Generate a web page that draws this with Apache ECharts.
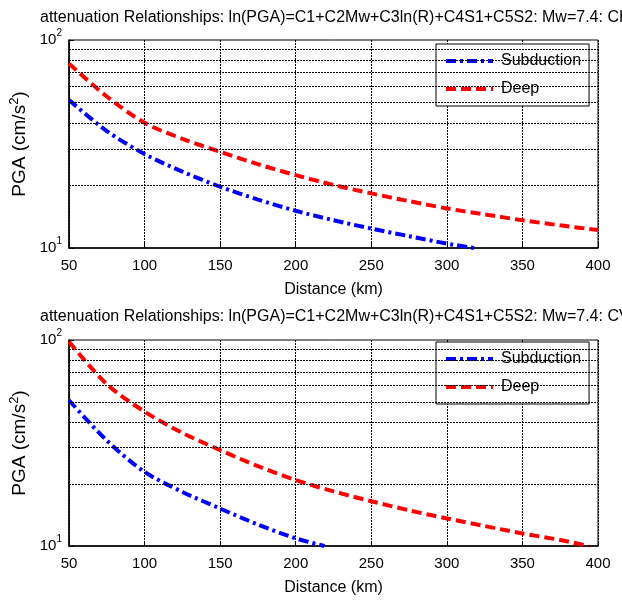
<!DOCTYPE html>
<html>
<head>
<meta charset="utf-8">
<script src="https://cdn.jsdelivr.net/npm/echarts@6/dist/echarts.min.js"></script>
<style>html,body{margin:0;padding:0;background:#fff;}#c{width:622px;height:601px;}</style>
</head>
<body>
<div id="c"></div>
<script>
// ---- data ----
const titleTop = 'attenuation Relationships: ln(PGA)=C1+C2Mw+C3ln(R)+C4S1+C5S2: Mw=7.4: CH';
const titleBottom = 'attenuation Relationships: ln(PGA)=C1+C2Mw+C3ln(R)+C4S1+C5S2: Mw=7.4: CV';
const seriesNames = ['Subduction', 'Deep'];
const xTicks = [50, 100, 150, 200, 250, 300, 350, 400];
const yMinorGrid = [20, 30, 40, 50, 60, 70, 80, 90];

// Top panel (CH)
const topSubDist = [50, 75, 100, 125, 150, 175, 200, 225, 250, 275, 300, 318];
const topSubPGA  = [51.5, 36.5, 28.3, 23.3, 19.7, 17.1, 15.1, 13.6, 12.4, 11.4, 10.5, 10.0];
const topDeepDist = [50, 75, 100, 125, 150, 175, 200, 225, 250, 275, 300, 325, 350, 375, 400];
const topDeepPGA  = [77, 53.5, 40, 33.5, 29, 25.3, 22.4, 20.1, 18.3, 16.8, 15.5, 14.5, 13.6, 12.85, 12.2];

// Bottom panel (CV)
const botSubDist = [50, 75, 100, 125, 150, 175, 200, 219];
const botSubPGA  = [51, 32.5, 22.9, 18.3, 15.2, 12.7, 10.9, 10.0];
const botDeepDist = [50, 75, 100, 125, 150, 175, 200, 225, 250, 275, 300, 325, 350, 375, 394];
const botDeepPGA  = [98, 61, 44.9, 35.4, 29.2, 24.4, 20.9, 18.4, 16.5, 14.9, 13.6, 12.5, 11.5, 10.7, 10.0];

const pairs = (xs, ys) => xs.map((x, i) => [x, ys[i]]);

const REG = '"Liberation Sans", Arial, sans-serif';

const grids = [
  { left: 69, top: 40, width: 529, height: 208 },
  { left: 69, top: 340, width: 529, height: 206 }
];

function xAxisFor(gi) {
  return {
    type: 'value', gridIndex: gi, min: 50, max: 400, interval: 50,
    name: 'Distance (km)', nameLocation: 'middle', nameGap: 34,
    nameTextStyle: { fontFamily: REG, fontSize: 16, color: '#000' },
    axisLine: { show: true, onZero: false, lineStyle: { color: '#000', width: 1.5 } },
    axisTick: { show: true, inside: true, length: 5, lineStyle: { color: '#000' } },
    axisLabel: { margin: 10, fontFamily: REG, fontSize: 15, color: '#000' },
    splitLine: { show: true, lineStyle: { color: '#000', width: 1, type: [2, 1] } }
  };
}
function yAxisFor(gi) {
  return {
    type: 'log', logBase: 10, gridIndex: gi, min: 10, max: 100,
    name: 'PGA (cm/s{s|2})', nameLocation: 'middle', nameGap: 37,
    nameTextStyle: { fontFamily: REG, fontSize: 19, color: '#000',
      rich: { s: { fontFamily: REG, fontSize: 13, color: '#000', padding: [0, 0, 9, 0] } } },
    axisLine: { show: true, lineStyle: { color: '#000', width: 1.5 } },
    axisTick: { show: true, inside: true, length: 5, lineStyle: { color: '#000' } },
    axisLabel: {
      margin: 7, color: '#000',
      formatter: v => (Math.round(Math.log10(v)) === 2 ? '10{s|2}' : '10{s|1}'),
      fontFamily: REG, fontSize: 15,
      rich: { s: { fontFamily: REG, fontSize: 10, color: '#000', padding: [0, 0, 13, 0] } }
    },
    splitLine: { show: false }
  };
}

const minorLines = {
  silent: true, symbol: 'none', label: { show: false },
  lineStyle: { color: '#000', width: 1, type: [2, 1] },
  data: yMinorGrid.map(v => ({ yAxis: v }))
};

const subStyle = { color: '#0000ff', width: 4, type: [10, 4, 3, 4] };
const deepStyle = { color: '#ff0000', width: 4, type: [10, 5] };

function mkSeries(name, gi, data, style, withMinor) {
  const s = {
    name: name, type: 'line', xAxisIndex: gi, yAxisIndex: gi,
    data: data, showSymbol: false, symbol: 'none', smooth: 0.3,
    lineStyle: style, itemStyle: { color: style.color }, z: 3, animation: false
  };
  if (withMinor) s.markLine = minorLines;
  return s;
}

function legendFor(top) {
  return {
    left: 436, top: top, orient: 'vertical',
    data: seriesNames,
    backgroundColor: '#fff', borderColor: '#000', borderWidth: 1,
    padding: [9, 8, 9, 8], itemGap: 12, itemWidth: 47, itemHeight: 14,
    itemStyle: { opacity: 0 },
    lineStyle: { width: 4 },
    textStyle: { fontFamily: REG, fontSize: 16, color: '#000', padding: [0, 0, 0, 3] },
    selectedMode: false
  };
}

const chart = echarts.init(document.getElementById('c'), null, { renderer: 'canvas' });
chart.setOption({
  animation: false,
  backgroundColor: '#fff',
  title: [
    { text: titleTop, left: 40, top: 10, padding: 0,
      textStyle: { fontFamily: REG, fontSize: 16, fontWeight: 'normal', color: '#000' } },
    { text: titleBottom, left: 40, top: 309, padding: 0,
      textStyle: { fontFamily: REG, fontSize: 16, fontWeight: 'normal', color: '#000' } }
  ],
  legend: [legendFor(44), legendFor(342)],
  grid: grids.map(g => Object.assign({ show: true, borderColor: '#000', borderWidth: 1, backgroundColor: '#fff' }, g)),
  xAxis: [xAxisFor(0), xAxisFor(1)],
  yAxis: [yAxisFor(0), yAxisFor(1)],
  series: [
    mkSeries(seriesNames[0], 0, pairs(topSubDist, topSubPGA), subStyle, true),
    mkSeries(seriesNames[1], 0, pairs(topDeepDist, topDeepPGA), deepStyle, false),
    mkSeries(seriesNames[0], 1, pairs(botSubDist, botSubPGA), subStyle, true),
    mkSeries(seriesNames[1], 1, pairs(botDeepDist, botDeepPGA), deepStyle, false)
  ]
});
</script>
</body>
</html>
